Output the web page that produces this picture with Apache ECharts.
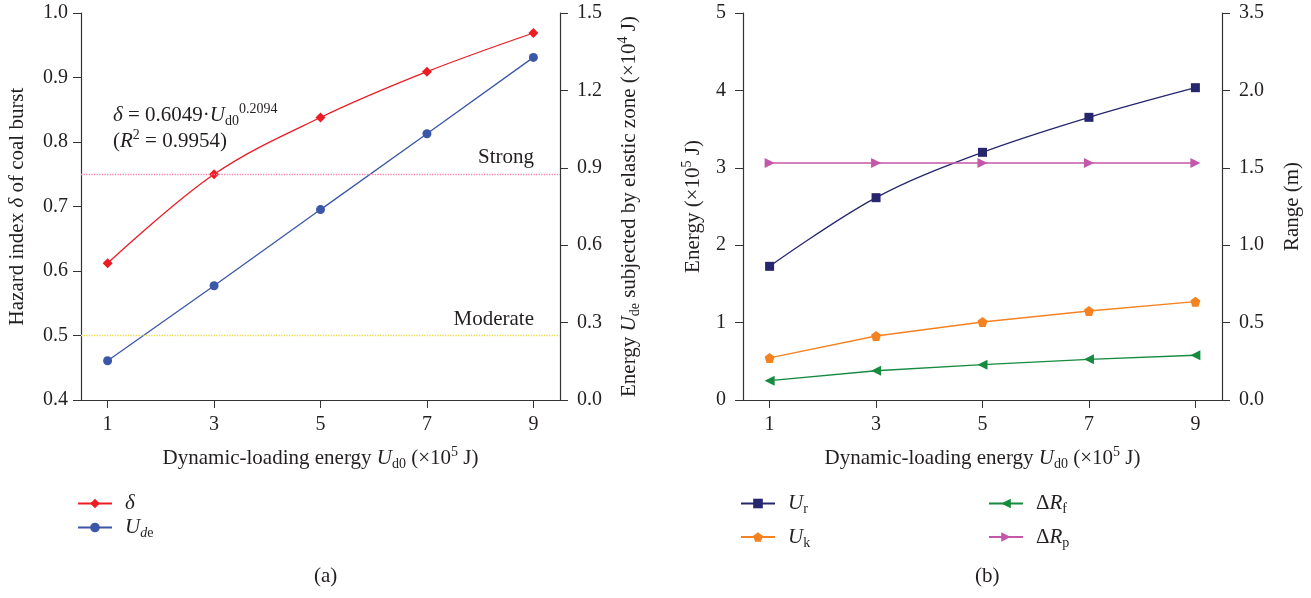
<!DOCTYPE html>
<html>
<head>
<meta charset="utf-8">
<script src="https://cdn.jsdelivr.net/npm/echarts@6/dist/echarts.min.js"></script>
<style>
  html, body { margin: 0; padding: 0; background: #fff; }
  #main { width: 1311px; height: 598px; }
</style>
</head>
<body>
<div id="main"></div>
<script>
var xValues = [1, 3, 5, 7, 9];
// panel (a)
var hazardIndex = [0.612, 0.750, 0.838, 0.909, 0.969];
var elasticEnergy = [0.152, 0.443, 0.738, 1.032, 1.328];
var strongLevel = 0.75;
var moderateLevel = 0.5;
// panel (b)
var releasedEnergy = [1.727, 2.614, 3.200, 3.652, 4.035];
var kineticEnergy = [0.543, 0.827, 1.008, 1.150, 1.270];
var fractureRange = [0.125, 0.189, 0.228, 0.263, 0.289];
var plasticRange = [1.531, 1.531, 1.531, 1.531, 1.531];
var rangeTickLabels = ['0.0', '0.5', '1.0', '1.5', '2.0', '3.5'];

var FONT = 'Liberation Serif';
var INK = '#231f20';
var FS = 21;   // names, legend, notes
var TS = 20;   // tick labels

function pairs(arr) {
  return xValues.map(function (x, i) { return [x, arr[i]]; });
}

var rich = {
  i: { fontFamily: FONT, fontSize: FS, fontStyle: 'italic', color: INK, lineHeight: 26 },
  n: { fontFamily: FONT, fontSize: FS, color: INK, lineHeight: 26 },
  sub: { fontFamily: FONT, fontSize: 14, color: INK, verticalAlign: 'bottom', lineHeight: 15 },
  isub: { fontFamily: FONT, fontSize: 14, fontStyle: 'italic', color: INK, verticalAlign: 'bottom', lineHeight: 15 },
  sup: { fontFamily: FONT, fontSize: 14, color: INK, verticalAlign: 'top', lineHeight: 15 }
};

var legendNames = {
  delta: '{i|δ}',
  Ude: '{i|U}{isub|d}{sub|e}',
  Ur: '{i|U}{sub|r}',
  Uk: '{i|U}{sub|k}',
  Rf: '{n|Δ}{i|R}{sub|f}',
  Rp: '{n|Δ}{i|R}{sub|p}'
};

function xAxisFor(gridIndex) {
  return {
    type: 'value', gridIndex: gridIndex, min: 0.5, max: 9.5,
    name: '{n|Dynamic-loading energy }{i|U}{sub|d0}{n| (×10}{sup|5}{n| J)}',
    nameLocation: 'middle', nameGap: 45,
    nameTextStyle: { rich: rich },
    axisLine: { lineStyle: { color: '#333', width: 1.2 } },
    axisTick: { customValues: xValues, length: 8, lineStyle: { color: '#333' } },
    axisLabel: { customValues: xValues, margin: 15, fontFamily: FONT, fontSize: TS, color: INK },
    splitLine: { show: false }
  };
}

function yAxisBase(gridIndex, position, min, max, interval, margin) {
  return {
    type: 'value', gridIndex: gridIndex, position: position,
    min: min, max: max, interval: interval,
    nameLocation: 'middle',
    nameTextStyle: { rich: rich },
    axisLine: { show: true, lineStyle: { color: '#333', width: 1.2 } },
    axisTick: { show: true, length: 8, lineStyle: { color: '#333' } },
    axisLabel: { margin: margin, fontFamily: FONT, fontSize: TS, color: INK },
    splitLine: { show: false }
  };
}

var yA = yAxisBase(0, 'left', 0.4, 1.0, 0.1, 13);
yA.name = '{n|Hazard index }{i|δ}{n| of coal burst}';
yA.nameGap = 51;
yA.axisLabel.formatter = function (v) { return v.toFixed(1); };

var yA2 = yAxisBase(0, 'right', 0, 1.5, 0.3, 17);
yA2.name = '{n|Energy }{i|U}{sub|de}{n| subjected by elastic zone (×10}{sup|4}{n| J)}';
yA2.nameGap = 56;
yA2.axisLabel.formatter = function (v) { return v.toFixed(1); };

var yB = yAxisBase(1, 'left', 0, 5, 1, 17);
yB.name = '{n|Energy (×10}{sup|5}{n| J)}';
yB.nameGap = 37;

var yB2 = yAxisBase(1, 'right', 0, 2.5, 0.5, 17);
yB2.name = '{n|Range (m)}';
yB2.nameGap = 57;
yB2.axisLabel.formatter = function (v) { return rangeTickLabels[Math.round(v / 0.5)]; };

var myChart = echarts.init(document.getElementById('main'));

var legendBase = {
  orient: 'vertical', itemWidth: 34, itemHeight: 12,
  formatter: function (n) { return legendNames[n]; },
  textStyle: { rich: rich, padding: [0, 0, 0, 8] }
};

var option = {
  backgroundColor: '#fff',
  animation: false,
  textStyle: { fontFamily: FONT },
  grid: [
    { left: 81, right: 751, top: 13, bottom: 198 },
    { left: 743, right: 89, top: 13, bottom: 198 }
  ],
  xAxis: [xAxisFor(0), xAxisFor(1)],
  yAxis: [yA, yA2, yB, yB2],
  legend: [
    Object.assign({}, legendBase, { data: ['delta', 'Ude'], left: 72, top: 488, itemGap: 3 }),
    Object.assign({}, legendBase, { data: ['Ur', 'Uk'], left: 735, top: 488, itemGap: 10 }),
    Object.assign({}, legendBase, { data: ['Rf', 'Rp'], left: 983, top: 488, itemGap: 10 })
  ],
  graphic: [
    {
      type: 'text', left: 113, top: 102,
      style: {
        text: '{i|δ}{n| = 0.6049·}{i|U}{sub|d0}{sup|0.2094}\n{n|(}{i|R}{sup|2}{n| = 0.9954)}',
        rich: rich, fill: INK
      }
    },
    { type: 'text', left: 314, top: 566, style: { text: '(a)', font: FS + 'px "Liberation Serif"', fill: INK } },
    { type: 'text', left: 975, top: 566, style: { text: '(b)', font: FS + 'px "Liberation Serif"', fill: INK } }
  ],
  series: [
    {
      name: 'delta', type: 'line', xAxisIndex: 0, yAxisIndex: 0,
      data: pairs(hazardIndex), smooth: 0.35,
      symbol: 'diamond', symbolSize: 10,
      lineStyle: { color: '#ec1c24', width: 1.3 },
      itemStyle: { color: '#ec1c24' },
      markLine: {
        silent: true, symbol: 'none', animation: false,
        data: [
          {
            yAxis: strongLevel,
            lineStyle: { color: '#f783a8', type: 'dotted', width: 1.3 },
            label: { formatter: 'Strong', position: 'insideEndTop', distance: [26, 6], fontFamily: FONT, fontSize: FS, color: INK }
          },
          {
            yAxis: moderateLevel,
            lineStyle: { color: '#ecd94a', type: 'dotted', width: 1.3 },
            label: { formatter: 'Moderate', position: 'insideEndTop', distance: [26, 6], fontFamily: FONT, fontSize: FS, color: INK }
          }
        ]
      }
    },
    {
      name: 'Ude', type: 'line', xAxisIndex: 0, yAxisIndex: 1,
      data: pairs(elasticEnergy),
      symbol: 'circle', symbolSize: 9,
      lineStyle: { color: '#3b57a8', width: 1.3 },
      itemStyle: { color: '#3b57a8' }
    },
    {
      name: 'Ur', type: 'line', xAxisIndex: 1, yAxisIndex: 2,
      data: pairs(releasedEnergy), smooth: 0.35,
      symbol: 'rect', symbolSize: 9,
      lineStyle: { color: '#25266e', width: 1.3 },
      itemStyle: { color: '#25266e' }
    },
    {
      name: 'Uk', type: 'line', xAxisIndex: 1, yAxisIndex: 2,
      data: pairs(kineticEnergy),
      symbol: 'path://M0,-1 L0.951,-0.309 L0.588,0.809 L-0.588,0.809 L-0.951,-0.309 Z', symbolSize: 10,
      lineStyle: { color: '#f58220', width: 1.3 },
      itemStyle: { color: '#f58220' }
    },
    {
      name: 'Rf', type: 'line', xAxisIndex: 1, yAxisIndex: 3,
      data: pairs(fractureRange),
      symbol: 'triangle', symbolRotate: 90, symbolSize: 10,
      lineStyle: { color: '#168a3e', width: 1.3 },
      itemStyle: { color: '#168a3e' }
    },
    {
      name: 'Rp', type: 'line', xAxisIndex: 1, yAxisIndex: 3,
      data: pairs(plasticRange),
      symbol: 'triangle', symbolRotate: -90, symbolSize: 10,
      lineStyle: { color: '#c457a9', width: 1.3 },
      itemStyle: { color: '#c457a9' }
    }
  ]
};

myChart.setOption(option);
</script>
</body>
</html>
